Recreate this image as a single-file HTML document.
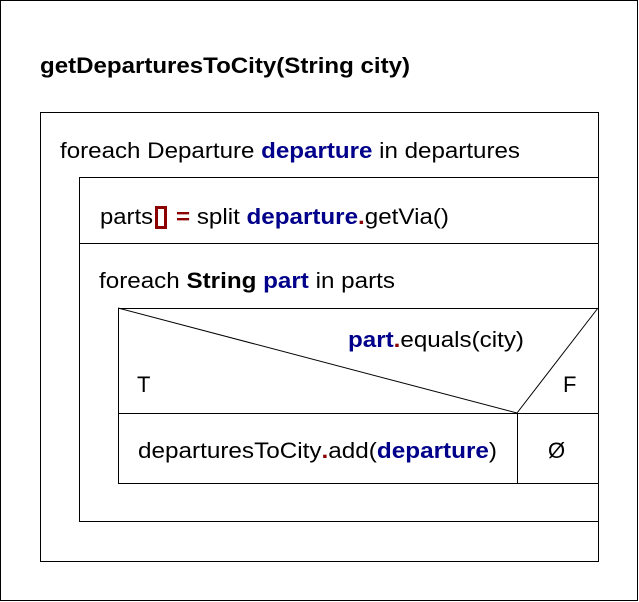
<!DOCTYPE html>
<html><head><style>body{margin:0;background:#fff}svg{display:block}</style></head><body>
<svg width="639" height="602" xmlns="http://www.w3.org/2000/svg" font-family="Liberation Sans, Arial, sans-serif" font-size="22">
<rect x="0.5" y="0.5" width="637" height="600" fill="#fff" stroke="#000"/>
<text x="40" y="73" font-weight="bold" textLength="370" lengthAdjust="spacingAndGlyphs">getDeparturesToCity(String city)</text>
<rect x="40.5" y="112.5" width="558" height="449" fill="none" stroke="#000"/>
<text x="60" y="158" textLength="460" lengthAdjust="spacingAndGlyphs">foreach Departure <tspan fill="#00008b" font-weight="bold">departure</tspan> in departures</text>
<rect x="79.5" y="177.5" width="519" height="344" fill="none" stroke="#000"/>
<line x1="79" y1="243.5" x2="599" y2="243.5" stroke="#000"/>
<text x="100" y="224" textLength="53" lengthAdjust="spacingAndGlyphs">parts</text>
<rect x="156.5" y="207.5" width="9" height="20" fill="none" stroke="#8b0000" stroke-width="3"/>
<text x="176" y="224" textLength="273" lengthAdjust="spacingAndGlyphs"><tspan fill="#8b0000" font-weight="bold">=</tspan> split <tspan fill="#00008b" font-weight="bold">departure</tspan><tspan fill="#8b0000" font-weight="bold">.</tspan>getVia()</text>
<text x="99" y="288" textLength="296" lengthAdjust="spacingAndGlyphs">foreach <tspan font-weight="bold">String</tspan> <tspan fill="#00008b" font-weight="bold">part</tspan> in parts</text>
<rect x="118.5" y="308.5" width="480" height="175" fill="none" stroke="#000"/>
<line x1="118" y1="413.5" x2="599" y2="413.5" stroke="#000"/>
<line x1="517.5" y1="413" x2="517.5" y2="483" stroke="#000"/>
<line x1="118" y1="308" x2="517" y2="413" stroke="#000"/>
<line x1="517" y1="413" x2="598" y2="308" stroke="#000"/>
<text x="348" y="347" textLength="176" lengthAdjust="spacingAndGlyphs"><tspan fill="#00008b" font-weight="bold">part</tspan><tspan fill="#8b0000" font-weight="bold">.</tspan>equals(city)</text>
<text x="137" y="392">T</text>
<text x="563" y="392">F</text>
<text x="138" y="458" textLength="359" lengthAdjust="spacingAndGlyphs">departuresToCity<tspan fill="#8b0000" font-weight="bold">.</tspan>add(<tspan fill="#00008b" font-weight="bold">departure</tspan>)</text>
<text x="548" y="458">Ø</text>
</svg>
</body></html>
